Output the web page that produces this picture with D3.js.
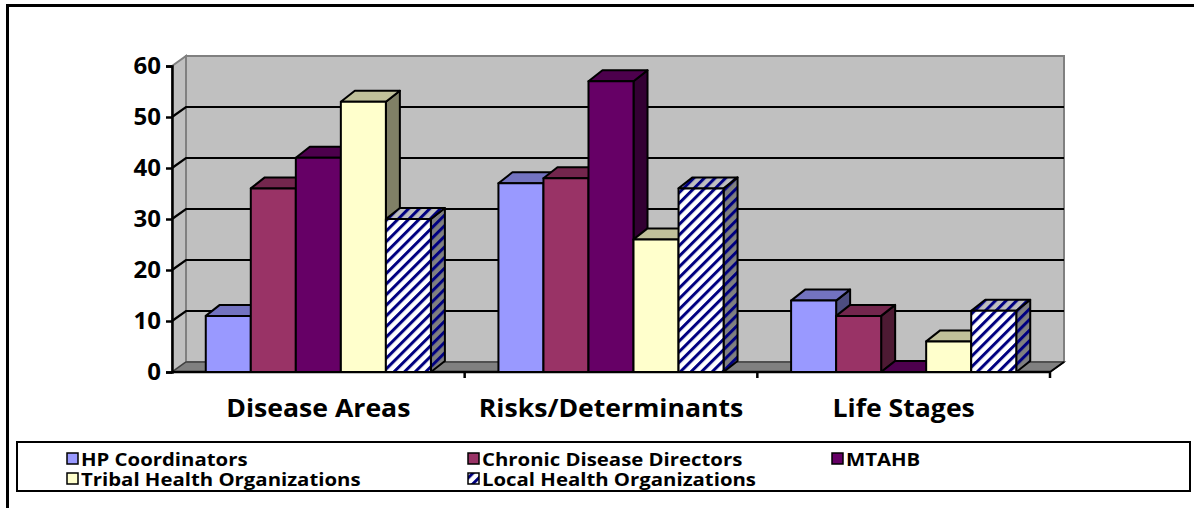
<!DOCTYPE html>
<html>
<head>
<meta charset="utf-8">
<script src="https://cdn.jsdelivr.net/npm/d3@7"></script>
<style>
  html, body { margin: 0; padding: 0; background: #fff; }
  svg { display: block; }
  text { font-family: "Open Sans", Lato, sans-serif; font-weight: bold; fill: #000; }
</style>
</head>
<body>
<svg id="chart" width="1194" height="508"></svg>
<script>
// ---- data ----
const categories = ["Disease Areas", "Risks/Determinants", "Life Stages"];
const seriesNames = ["HP Coordinators", "Chronic Disease Directors", "MTAHB",
                     "Tribal Health Organizations", "Local Health Organizations"];
const hpCoordinators = [11, 37, 14];
const chronicDirectors = [36, 38, 11];
const mtahb = [42, 57, 0];
const tribalHealth = [53, 26, 6];
const localHealth = [30, 36, 12];
const yTicks = [0, 10, 20, 30, 40, 50, 60];

const seriesValues = [hpCoordinators, chronicDirectors, mtahb, tribalHealth, localHealth];

// ---- face colours per series: front, top, side ----
const faces = [
  { front: "#9999ff", top: "#7373c0", side: "#4d4d80" },
  { front: "#993366", top: "#73264d", side: "#4d1a33" },
  { front: "#660066", top: "#4d004d", side: "#330033" },
  { front: "#ffffcc", top: "#c0c09a", side: "#808066" },
  { front: "url(#stripeFront)", top: "url(#stripeTop)", side: "url(#stripeSide)" }
];

const svg = d3.select("#chart");

// diagonal stripe patterns for the striped series
const defs = svg.append("defs");
[["stripeFront", "#ffffff"], ["stripeTop", "#c0c0c0"], ["stripeSide", "#808080"], ["stripeKey", "#ffffff"]]
  .forEach(([id, bg]) => {
    const p = defs.append("pattern")
      .attr("id", id)
      .attr("patternUnits", "userSpaceOnUse")
      .attr("width", 7.5).attr("height", 7.5)
      .attr("patternTransform", "rotate(45)");
    p.append("rect").attr("width", 7.5).attr("height", 7.5).attr("fill", bg);
    p.append("rect").attr("width", 3).attr("height", 7.5).attr("fill", "#000080");
  });

// ---- geometry ----
const x0 = 172, x1 = 1050;          // front edge of the floor
const yBase = 372, yTop = 66;       // front value range
const dx = 14, dy = 10;             // wall depth offset
const bdx = 14, bdy = 11;           // bar depth offset

const y = d3.scaleLinear().domain([0, 60]).range([yBase, yTop]);
const xCat = d3.scaleBand().domain(categories).range([x0, x1]).paddingInner(0).paddingOuter(0);
const xSer = d3.scaleBand().domain(seriesNames).range([0, xCat.bandwidth()])
  .paddingInner(0).paddingOuter(0.75);

// horizontally widened bold label
function wideText(parent, x, yPos, str, size, stretch, anchor) {
  return parent.append("text")
    .attr("transform", `translate(${x},${yPos}) scale(${stretch},1)`)
    .attr("text-anchor", anchor)
    .attr("font-size", size)
    .text(str);
}

// outer frame
svg.append("path")
  .attr("d", `M7.5,508 L7.5,5.5 L1194,5.5`)
  .attr("fill", "none").attr("stroke", "#000").attr("stroke-width", 3);

// ---- walls ----
const wall = svg.append("g");
// back wall
wall.append("rect")
  .attr("x", x0 + dx).attr("y", y(60) - dy)
  .attr("width", x1 - x0).attr("height", y(0) - y(60))
  .attr("fill", "#c0c0c0").attr("stroke", "#808080").attr("stroke-width", 2);
// side wall
wall.append("path")
  .attr("d", `M${x0},${y(60)} L${x0 + dx},${y(60) - dy} L${x0 + dx},${y(0) - dy} L${x0},${y(0)} Z`)
  .attr("fill", "#c0c0c0").attr("stroke", "#808080").attr("stroke-width", 2);
// floor
wall.append("path")
  .attr("d", `M${x0},${y(0)} L${x0 + dx},${y(0) - dy} L${x1 + dx},${y(0) - dy} L${x1},${y(0)} Z`)
  .attr("fill", "#808080").attr("stroke", "#404040").attr("stroke-width", 1.5);

// gridlines across side wall and back wall
const grid = wall.append("g");
yTicks.filter(t => t > 0 && t < 60).forEach(t => {
  grid.append("path")
    .attr("d", `M${x0},${y(t)} L${x0 + dx},${y(t) - dy} L${x1 + dx},${y(t) - dy}`)
    .attr("fill", "none").attr("stroke", "#000").attr("stroke-width", 2.2);
});

// ---- y axis ----
const yAxis = svg.append("g")
  .attr("transform", `translate(${x0},0)`)
  .call(d3.axisLeft(y).tickValues(yTicks).tickSize(6).tickPadding(5).tickFormat(d3.format("d")));
yAxis.select(".domain").attr("stroke", "#000").attr("stroke-width", 2.5);
yAxis.selectAll(".tick line").attr("stroke", "#000").attr("stroke-width", 2.5);
yAxis.selectAll(".tick text")
  .style("font-family", "'Open Sans', sans-serif").style("font-weight", "bold")
  .attr("font-size", 24).attr("fill", "#000");

// ---- x axis ----
const xAxisG = svg.append("g");
xAxisG.append("line")
  .attr("x1", x0).attr("x2", x1).attr("y1", yBase).attr("y2", yBase)
  .attr("stroke", "#000").attr("stroke-width", 2.5);
categories.forEach((c, i) => {
  const xe = xCat(c) + xCat.bandwidth();
  xAxisG.append("line")
    .attr("x1", xe).attr("x2", xe).attr("y1", yBase).attr("y2", yBase + 6)
    .attr("stroke", "#000").attr("stroke-width", 2.5);
  wideText(xAxisG, xCat(c) + xCat.bandwidth() / 2, 417, c, 25, 1.065, "middle");
});
xAxisG.append("path")
  .attr("d", `M${x1},${yBase} L${x1 + dx},${yBase - dy}`)
  .attr("stroke", "#000").attr("stroke-width", 2);

// ---- 3D bars ----
const bars = svg.append("g").attr("stroke", "#000").attr("stroke-width", 2).attr("stroke-linejoin", "round");
categories.forEach((c, ci) => {
  seriesNames.forEach((s, si) => {
    const v = seriesValues[si][ci];
    const L = xCat(c) + xSer(s), R = L + xSer.bandwidth();
    const T = y(v), B = y(0);
    const f = faces[si];
    const g = bars.append("g");
    // right side face
    if (v > 0) {
      g.append("path")
        .attr("d", `M${R},${T} L${R + bdx},${T - bdy} L${R + bdx},${B - bdy} L${R},${B} Z`)
        .attr("fill", f.side);
    }
    // top face
    g.append("path")
      .attr("d", `M${L},${T} L${L + bdx},${T - bdy} L${R + bdx},${T - bdy} L${R},${T} Z`)
      .attr("fill", f.top);
    // front face
    if (v > 0) {
      g.append("rect")
        .attr("x", L).attr("y", T).attr("width", R - L).attr("height", B - T)
        .attr("fill", f.front);
    }
  });
});

// ---- legend ----
const legend = svg.append("g");
legend.append("rect")
  .attr("x", 17).attr("y", 442).attr("width", 1173).attr("height", 49)
  .attr("fill", "#fff").attr("stroke", "#000").attr("stroke-width", 2);
const legendPos = [[67, 459], [468, 459], [832, 459], [67, 479], [468, 479]];
const keyFill = ["#9999ff", "#993366", "#660066", "#ffffcc", "url(#stripeKey)"];
seriesNames.forEach((s, i) => {
  const [lx, ly] = legendPos[i];
  legend.append("rect")
    .attr("x", lx).attr("y", ly - 6).attr("width", 11).attr("height", 11)
    .attr("fill", keyFill[i]).attr("stroke", "#000").attr("stroke-width", 1.5);
  wideText(legend, lx + 14, ly + 6.5, s, 18.5, 1.1, "start");
});
</script>
</body>
</html>
